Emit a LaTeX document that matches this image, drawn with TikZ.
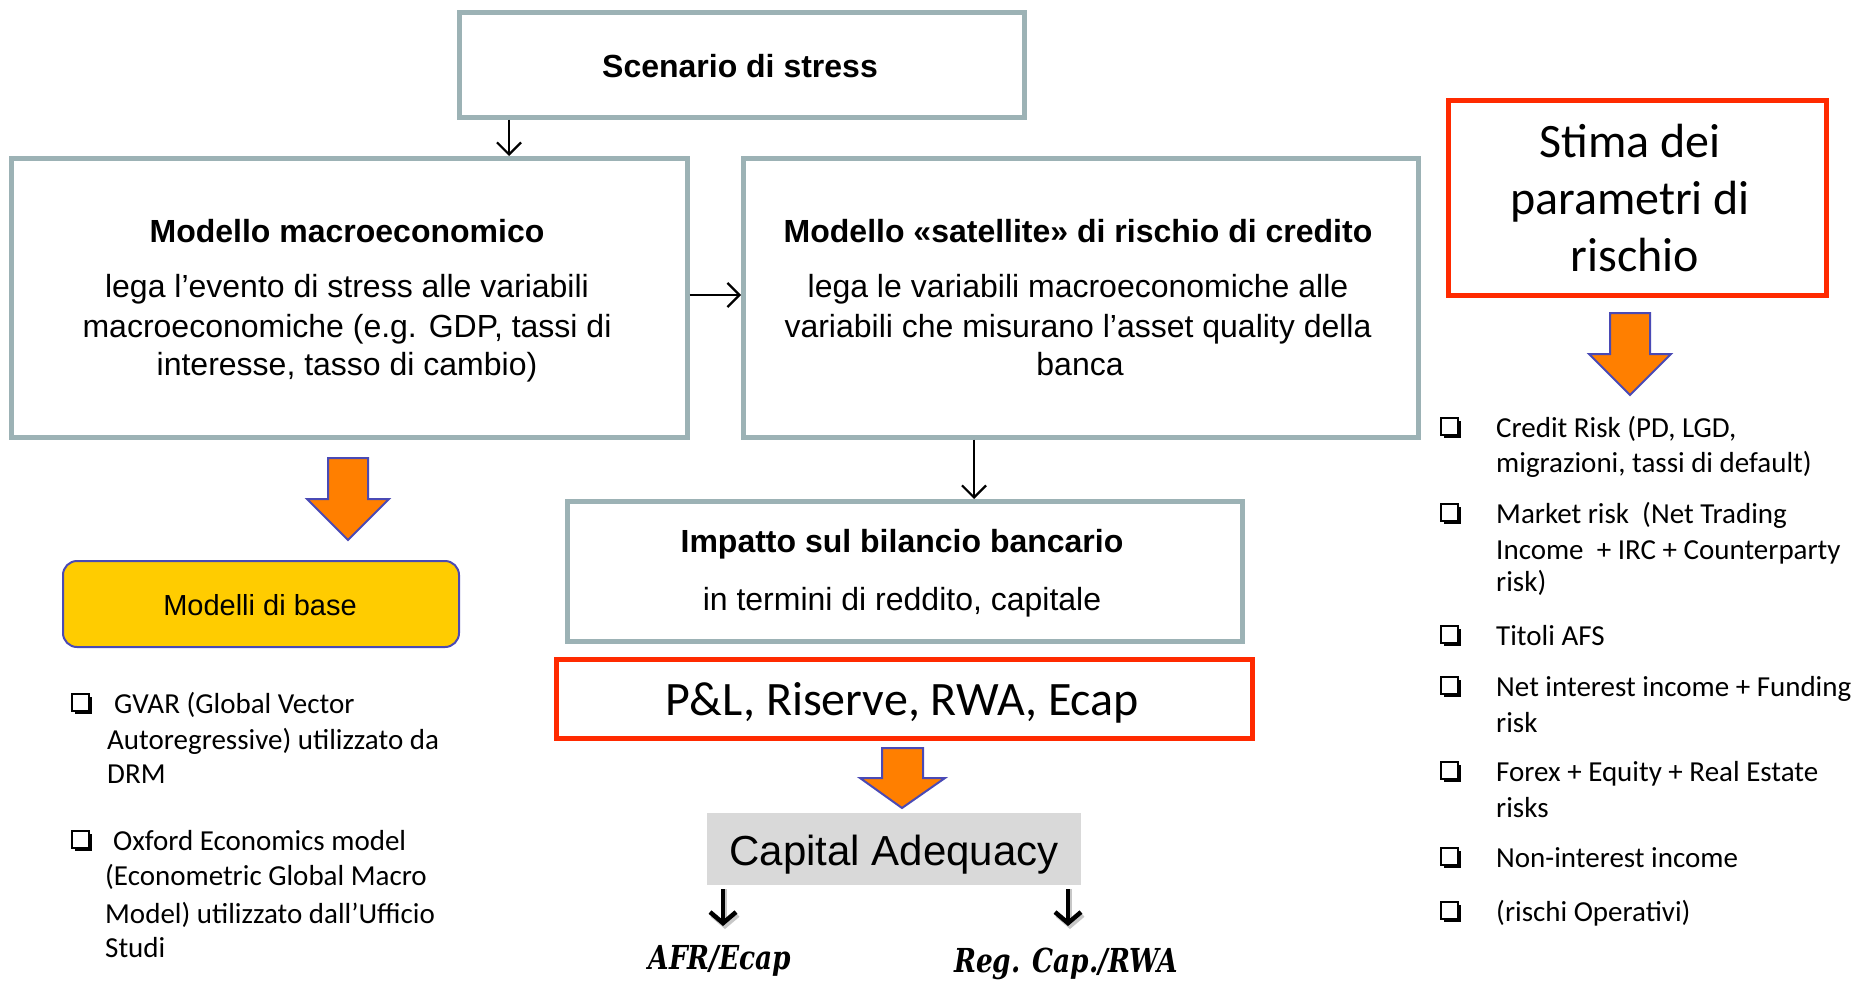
\documentclass[tikz,border=0pt]{standalone}
\usepackage{fontspec}
\setmainfont{Liberation Sans}
\newfontfamily\calfont{Carlito}
\newfontfamily\slabfont[FakeStretch=0.8]{DejaVu Serif}
\usetikzlibrary{arrows.meta,shadows}
\definecolor{boxgray}{HTML}{9CB2B5}
\definecolor{redb}{HTML}{FF2A00}
\definecolor{orng}{HTML}{FF7F00}
\definecolor{blueb}{HTML}{4A4AB5}
\definecolor{yel}{HTML}{FFCC00}
\definecolor{capgray}{HTML}{D9D9D9}
\tikzset{
  graybox/.style={draw=boxgray, line width=4.5pt, inner sep=0pt, anchor=north west},
  redbox/.style={draw=redb, line width=5pt, inner sep=0pt, anchor=north west},
  txt/.style={inner sep=0pt, anchor=base},
  ttl/.style={txt, font=\bfseries\fontsize{32}{38}\selectfont},
  bod/.style={txt, font=\fontsize{32}{38}\selectfont},
  bigcal/.style={txt, font=\calfont\fontsize{48}{56}\selectfont},
  cal/.style={inner sep=0pt, anchor=base west, font=\calfont\fontsize{29}{35}\selectfont},
  bul/.style={draw=black, fill=white, line width=2pt, minimum size=17pt, inner sep=0pt,
    drop shadow={shadow xshift=3pt, shadow yshift=-3pt, fill=black, opacity=1}},
  slab/.style={txt, font=\slabfont\bfseries\itshape\fontsize{33}{36}\selectfont},
  thinarr/.style={line width=2.2pt, -{Straight Barb[length=12pt,width=24pt,line width=2.2pt]}},
  fatarr/.style={line width=4.5pt, -{Straight Barb[length=11pt,width=26pt,line width=4.5pt]}},
  bigarr/.style={fill=orng, draw=blueb, line width=2pt, line join=miter},
}
\begin{document}
\begin{tikzpicture}[x=1pt,y=-1pt]
\useasboundingbox (0,0) rectangle (1860,983);

% boxes
\node[graybox, minimum width=565pt, minimum height=105pt] (scen) at (457,10) {};
\node[graybox, minimum width=676pt, minimum height=279pt] (macro) at (9,156) {};
\node[graybox, minimum width=675pt, minimum height=279pt] (sat) at (741,156) {};
\node[redbox, minimum width=378pt, minimum height=195pt] (stima) at (1446,98) {};
\node[graybox, minimum width=675pt, minimum height=140pt] (imp) at (565,499) {};
\node[redbox, minimum width=696pt, minimum height=79pt] (pl) at (554,657) {};
\node[draw=blueb, fill=yel, line width=2pt, rounded corners=14pt, inner sep=0pt,
      anchor=north west, minimum width=396pt, minimum height=86pt] (base) at (62,560) {};
\node[fill=capgray, inner sep=0pt, anchor=north west,
      minimum width=374pt, minimum height=72pt] (cap) at (707,813) {};

% box texts
\node[ttl] (scenT) at (740,77) {Scenario di stress};
\node[ttl] (macroT) at (347,242) {Modello macroeconomico};
\node[bod] (macroA) at (347,297) {lega l’evento di stress alle variabili};
\node[bod] (macroB) at (347,337) {macroeconomiche (e.g. GDP, tassi di};
\node[bod] (macroC) at (347,375) {interesse, tasso di cambio)};
\node[ttl] (satT) at (1078,242) {Modello «satellite» di rischio di credito};
\node[bod] (satA) at (1078,297) {lega le variabili macroeconomiche alle};
\node[bod] (satB) at (1078,337) {variabili che misurano l’asset quality della};
\node[bod] (satC) at (1080,375) {banca};
\node[bigcal] (stA) at (1630,157) {Stima dei};
\node[bigcal] (stB) at (1630,214) {parametri di};
\node[bigcal] (stC) at (1635,271) {rischio};
\node[ttl] (impT) at (902,552) {Impatto sul bilancio bancario};
\node[bod] (impA) at (902,610) {in termini di reddito, capitale};
\node[bigcal] (plT) at (902,715) {P\&L, Riserve, RWA, Ecap};
\node[txt, font=\fontsize{29}{34}\selectfont] (baseT) at (260,615) {Modelli di base};
\node[txt, font=\fontsize{42}{48}\selectfont] (capT) at (894,865) {Capital Adequacy};
\node[slab] (afr) at (720,969) {AFR/Ecap};
\node[slab] (reg) at (1066,972) {Reg. Cap./RWA};

% thin connectors
\coordinate (c1) at (509,0);
\coordinate (c2) at (0,295);
\coordinate (c3) at (974,0);
\draw[thinarr] (scen.south -| c1) -- (macro.north -| c1);
\draw[thinarr] (macro.east |- c2) -- (sat.west |- c2);
\draw[thinarr] (sat.south -| c3) -- (imp.north -| c3);

% fat arrows below Capital Adequacy
\coordinate (e1) at (723,926);
\coordinate (e2) at (1068,926);
\draw[fatarr, black!22, shorten <=4pt] ([xshift=2pt]cap.south -| e1) -- ([xshift=2pt,yshift=-3pt]e1);
\draw[fatarr, black!22, shorten <=4pt] ([xshift=2pt]cap.south -| e2) -- ([xshift=2pt,yshift=-3pt]e2);
\draw[fatarr, shorten <=4pt] (cap.south -| e1) -- (e1);
\draw[fatarr, shorten <=4pt] (cap.south -| e2) -- (e2);

% orange block arrows
\draw[bigarr] (328,458) -- (368,458) -- (368,499) -- (389,499) -- (348,540) -- (307,499) -- (328,499) -- cycle;
\draw[bigarr] (1610,313) -- (1650,313) -- (1650,354) -- (1671,354) -- (1630,395) -- (1589,354) -- (1610,354) -- cycle;
\draw[bigarr] (882,748) -- (923,748) -- (923,778) -- (945,778) -- (902,808) -- (860,778) -- (882,778) -- cycle;

% left list
\node[bul] (lb1) at (80,702) {};
\node[bul] (lb2) at (80,839) {};
\node[cal] (l1a) at (114,713) {GVAR (Global Vector};
\node[cal] (l1b) at (107,749) {Autoregressive) utilizzato da};
\node[cal] (l1c) at (107,783) {DRM};
\node[cal] (l2a) at (113,850) {Oxford Economics model};
\node[cal] (l2b) at (105,885) {(Econometric Global Macro};
\node[cal] (l2c) at (105,923) {Model) utilizzato dall’Ufficio};
\node[cal] (l2d) at (105,957) {Studi};

% right list
\node[bul] (rb1) at (1449,426) {};
\node[bul] (rb2) at (1449,512) {};
\node[bul] (rb3) at (1449,634) {};
\node[bul] (rb4) at (1449,685) {};
\node[bul] (rb5) at (1449,770) {};
\node[bul] (rb6) at (1449,856) {};
\node[bul] (rb7) at (1449,910) {};
\node[cal] (r1a) at (1496,437) {Credit Risk (PD, LGD,};
\node[cal] (r1b) at (1496,472) {migrazioni, tassi di default)};
\node[cal] (r2a) at (1496,523) {Market risk\ \ (Net Trading};
\node[cal] (r2b) at (1496,559) {Income\ \ + IRC + Counterparty};
\node[cal] (r2c) at (1496,591) {risk)};
\node[cal] (r3a) at (1496,645) {Titoli AFS};
\node[cal] (r4a) at (1496,696) {Net interest income + Funding};
\node[cal] (r4b) at (1496,732) {risk};
\node[cal] (r5a) at (1496,781) {Forex + Equity + Real Estate};
\node[cal] (r5b) at (1496,817) {risks};
\node[cal] (r6a) at (1496,867) {Non-interest income};
\node[cal] (r7a) at (1496,921) {(rischi Operativi)};
\end{tikzpicture}
\end{document}
